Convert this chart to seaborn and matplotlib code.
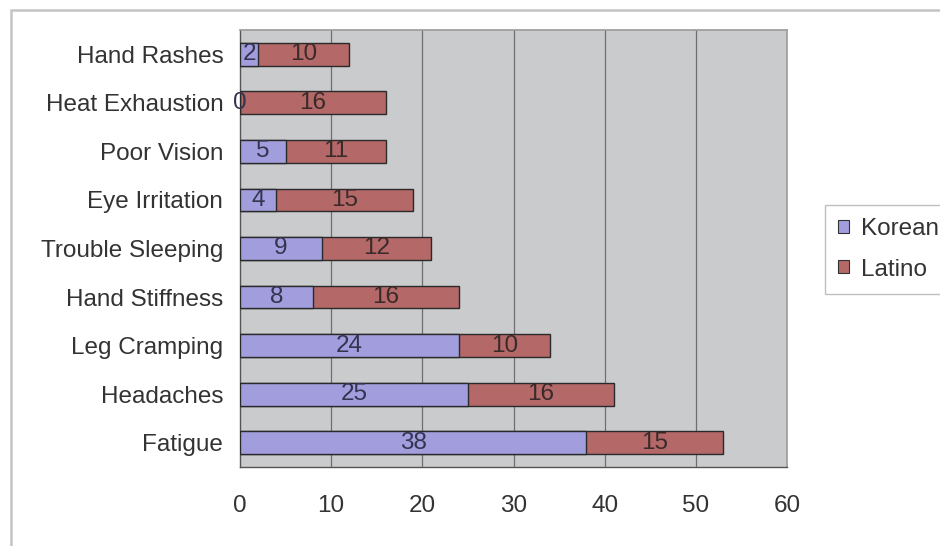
import matplotlib
matplotlib.use("Agg")
import matplotlib.pyplot as plt
import seaborn as sns
import pandas as pd
import numpy as np
from matplotlib.patches import Rectangle, Patch

categories = ["Hand Rashes", "Heat Exhaustion", "Poor Vision", "Eye Irritation",
              "Trouble Sleeping", "Hand Stiffness", "Leg Cramping", "Headaches", "Fatigue"]
korean = [2, 0, 5, 4, 9, 8, 24, 25, 38]
latino = [10, 16, 11, 15, 12, 16, 10, 16, 15]
x_ticks = [0, 10, 20, 30, 40, 50, 60]

korean_color = "#a29ede"
latino_color = "#b46868"
bg_color = "#c9cbcc"
text_color = "#333333"
FS = 17.5

sns.set_theme(style="white")
plt.rcParams["font.family"] = ["Liberation Sans", "DejaVu Sans"]

df = pd.DataFrame({"category": categories, "Korean": korean, "Latino": latino})
df["Total"] = df["Korean"] + df["Latino"]

fig = plt.figure(figsize=(9.4, 5.46), dpi=100)
ax = fig.add_axes([240 / 940, 1 - 467 / 546, (787 - 240) / 940, (467 - 30) / 546])
ax.set_facecolor(bg_color)

sns.barplot(data=df, y="category", x="Total", color=latino_color, orient="h",
            width=0.47, edgecolor="#2a2a2a", linewidth=1.0, saturation=1, ax=ax, zorder=3)
sns.barplot(data=df, y="category", x="Korean", color=korean_color, orient="h",
            width=0.47, edgecolor="#2a2a2a", linewidth=1.0, saturation=1, ax=ax, zorder=4)

# data labels
for i, (k, l) in enumerate(zip(korean, latino)):
    ax.text(k / 2, i, str(k), ha="center", va="center", fontsize=FS,
            color="#343450", zorder=6)
    ax.text(k + l / 2, i, str(l), ha="center", va="center", fontsize=FS,
            color="#3a2a2a", zorder=6)

ax.set_xlim(0, 60)
ax.set_ylim(len(categories) - 0.5, -0.5)
ax.set_xticks(x_ticks)
ax.set_xticklabels([str(t) for t in x_ticks], fontsize=FS, color=text_color)
ax.set_yticks(range(len(categories)))
ax.set_yticklabels(categories, fontsize=FS, color=text_color)
ax.set_xlabel("")
ax.set_ylabel("")

ax.grid(False)
for t in x_ticks[1:-1]:
    ax.axvline(t, color="#6e6e6e", linewidth=0.9, zorder=1)

# ticks
ax.tick_params(axis="y", which="major", length=0, pad=12)
ax.set_yticks(np.arange(-0.5, len(categories), 1), minor=True)
ax.tick_params(axis="y", which="minor", length=5, width=0.9, color="#555555", direction="out")
ax.tick_params(axis="x", which="major", length=5, width=0.9, color="#555555",
               direction="inout", pad=18)

for side in ["top", "right"]:
    ax.spines[side].set_color("#9a9a9a")
    ax.spines[side].set_linewidth(1.2)
for side in ["left", "bottom"]:
    ax.spines[side].set_color("#555555")
    ax.spines[side].set_linewidth(1.0)

# outer chart border
fig.patches.append(Rectangle((11 / 940, -0.05), 1.1, 1 - 10 / 546 + 0.05,
                             transform=fig.transFigure, fill=False,
                             edgecolor="#c4c4c4", linewidth=1.8))

handles = [Patch(facecolor=korean_color, edgecolor="#333333", linewidth=0.8),
           Patch(facecolor=latino_color, edgecolor="#333333", linewidth=0.8)]
leg = fig.legend(handles, ["Korean", "Latino"], loc="upper left",
                 bbox_to_anchor=(825 / 940, 1 - 205 / 546), fontsize=FS,
                 frameon=True, fancybox=False, edgecolor="#b0b0b0",
                 handlelength=0.45, handleheight=0.45, handletextpad=0.5,
                 labelspacing=0.75, borderpad=0.55, borderaxespad=0,
                 labelcolor=text_color)
leg.get_frame().set_linewidth(1.0)

fig.savefig("out.png", dpi=100, facecolor="white")
